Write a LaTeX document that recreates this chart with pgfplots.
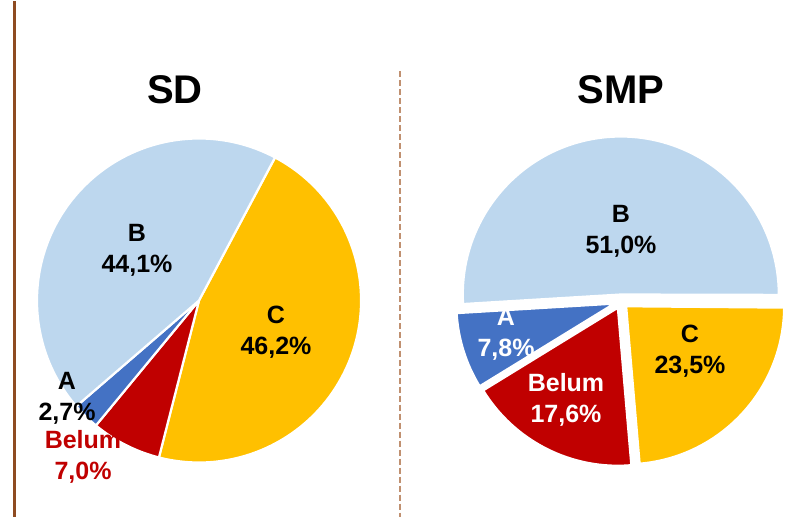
\documentclass[border=0pt]{standalone}
\usepackage{fontspec}
\setmainfont{Liberation Sans}
\usepackage{pgfplots}
\pgfplotsset{compat=1.18}
\usetikzlibrary{calc}
\definecolor{cA}{HTML}{4472C4}
\definecolor{cB}{HTML}{BDD7EE}
\definecolor{cC}{HTML}{FFC000}
\definecolor{cBel}{HTML}{C00000}
\definecolor{brownline}{HTML}{8E4B21}
\definecolor{dashbrown}{HTML}{C09070}
\newcommand\piestart[1]{\xdef\curang{#1}}
% #1 cx, #2 cy, #3 radius, #4 percent, #5 colour, #6 explode
\newcommand\slice[6]{%
 \pgfmathsetmacro\sa{90-\curang}%
 \pgfmathsetmacro\sb{\sa-3.6*#4}%
 \pgfmathsetmacro\sm{(\sa+\sb)/2}%
 \pgfmathsetmacro\nx{\curang+3.6*#4}\xdef\curang{\nx}%
 \edef\next{\noexpand\fill[#5,draw=white,line width=2.2pt,line join=round] ($(axis cs:#1,#2)+(\sm:#6pt)$) -- ++(\sa:#3pt) arc[start angle=\sa, end angle=\sb, radius=#3pt] -- cycle;}%
 \next}
\begin{document}
\begin{tikzpicture}
\begin{axis}[hide axis, scale only axis, width=805pt, height=515pt,
  xmin=0, xmax=805, ymin=0, ymax=515, y dir=reverse, clip=false]
\path (axis cs:0,0) rectangle (axis cs:805,515);
% SD pie: C, Belum, A, B (clockwise)
\piestart{28}
\slice{199}{299}{162}{46.2}{cC}{0}
\slice{199}{299}{162}{7.0}{cBel}{0}
\slice{199}{299}{162}{2.7}{cA}{0}
\slice{199}{299}{162}{44.1}{cB}{0}
% SMP pie
\piestart{90.5}
\slice{621}{300}{158}{23.5}{cC}{7}
\slice{621}{300}{158}{17.6}{cBel}{7}
\slice{621}{300}{158}{7.8}{cA}{7}
\slice{621}{300}{158}{51.0}{cB}{7}
% lines
\draw[brownline, line width=3pt] (axis cs:14,0) -- (axis cs:14,515);
\draw[dashbrown, line width=1.5pt, dash pattern=on 6pt off 3pt] (axis cs:400,70) -- (axis cs:400,515);
% titles
\node[font=\fontsize{40}{48}\selectfont\bfseries] at (axis cs:175,88) {SD};
\node[font=\fontsize{40}{48}\selectfont\bfseries] at (axis cs:621,88) {SMP};
% labels
\begin{scope}[every node/.style={font=\fontsize{25}{31}\selectfont\bfseries, align=center, inner sep=0pt}]
\node at (axis cs:137,249) {B\\44,1\%};
\node at (axis cs:276,331) {C\\46,2\%};
\node at (axis cs:67,397) {A\\2,7\%};
\node[text=cBel] at (axis cs:83,455) {Belum\\7,0\%};
\node at (axis cs:621,230) {B\\51,0\%};
\node[text=white] at (axis cs:506,333) {A\\7,8\%};
\node[text=white] at (axis cs:566,398) {Belum\\17,6\%};
\node at (axis cs:690,350) {C\\23,5\%};
\end{scope}
\end{axis}
\end{tikzpicture}
\end{document}
